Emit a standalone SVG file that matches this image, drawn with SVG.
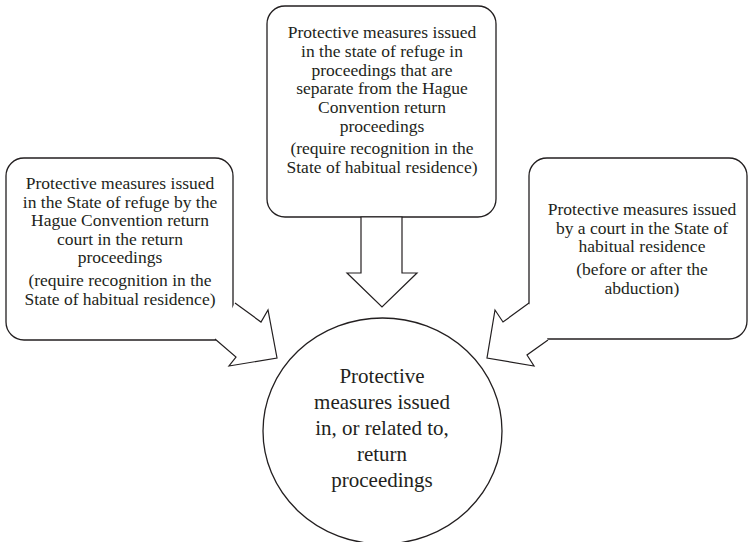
<svg xmlns="http://www.w3.org/2000/svg" width="748" height="542" viewBox="0 0 748 542">
<style>
.box{fill:#fff;stroke:#231f20;stroke-width:1.3}
.arr{fill:#fff;stroke:#231f20;stroke-width:1.2;stroke-linejoin:miter}
.t{font-family:"Liberation Serif","Times New Roman",serif;font-size:17.5px;fill:#231f20;text-anchor:middle}
.c{font-family:"Liberation Serif","Times New Roman",serif;font-size:21px;fill:#231f20;text-anchor:middle}
</style>
<rect width="748" height="542" fill="#fff"/>
<g id="left">
<rect class="box" x="6" y="158" width="227" height="182" rx="18" ry="18"/>
<text class="t"><tspan x="120" y="189">Protective measures issued</tspan><tspan x="120" y="207.5">in the State of refuge by the</tspan><tspan x="120" y="226">Hague Convention return</tspan><tspan x="120" y="244.5">court in the return</tspan><tspan x="120" y="263">proceedings</tspan><tspan x="120" y="286">(require recognition in the</tspan><tspan x="120" y="305">State of habitual residence)</tspan></text>
</g>
<g id="top">
<rect class="box" x="267" y="6" width="229" height="211" rx="18" ry="18"/>
<text class="t"><tspan x="382" y="38">Protective measures issued</tspan><tspan x="382" y="56.8">in the state of refuge in</tspan><tspan x="382" y="75.6">proceedings that are</tspan><tspan x="382" y="94.4">separate from the Hague</tspan><tspan x="382" y="113.2">Convention return</tspan><tspan x="382" y="132">proceedings</tspan><tspan x="382" y="154">(require recognition in the</tspan><tspan x="382" y="173">State of habitual residence)</tspan></text>
</g>
<g id="right">
<rect class="box" x="529" y="158" width="218" height="181" rx="18" ry="18"/>
<text class="t"><tspan x="642" y="215">Protective measures issued</tspan><tspan x="642" y="233.5">by a court in the State of</tspan><tspan x="642" y="252">habitual residence</tspan><tspan x="642" y="275">(before or after the</tspan><tspan x="642" y="293.5">abduction)</tspan></text>
</g>
<g id="center">
<ellipse class="box" cx="382.5" cy="431" rx="119.5" ry="113"/>
<text class="c"><tspan x="382" y="383">Protective</tspan><tspan x="382" y="409">measures issued</tspan><tspan x="382" y="435">in, or related to,</tspan><tspan x="382" y="461">return</tspan><tspan x="382" y="487">proceedings</tspan></text>
</g>
<g id="connectors">
<polygon class="arr" points="361,217 402,217 402,273 417,273 382,307 347,273 361,273"/>
<polyline class="arr" points="235,303 261,322 268,310 277,358 229,366 236,357 215,339"/>
<polyline class="arr" points="529,303 503,322 495,310 487,358 534,366 527,355 548,340"/>
</g>
</svg>
